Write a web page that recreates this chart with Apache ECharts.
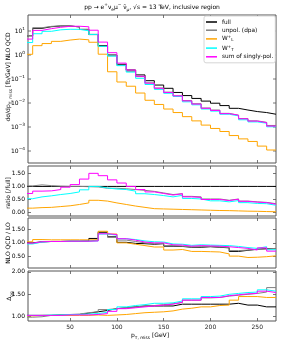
<!DOCTYPE html>
<html>
<head>
<meta charset="utf-8">
<script src="https://cdn.jsdelivr.net/npm/echarts@6/dist/echarts.min.js"></script>
<style>
html,body{margin:0;padding:0;background:#fff;}
#chart{width:288px;height:342px;}
</style>
</head>
<body>
<div id="chart"></div>
<script>
// ---- data (bin edges in GeV, values per bin) ----
const binEdges = [0,10,20,30,40,50,60,70,80,90,100,110,120,130,140,150,160,170,180,190,200,210,220,230,240,250,260,270];
const xTicks = [50,100,150,200,250];

// top panel: dsigma/dpT,miss [fb/GeV] NLO QCD
const fullNLO  = [6.3,12.9,15.1,16.2,16.2,14.8,11.7,7.2,2.45,1.0,0.41,0.237,0.148,0.085,0.056,0.041,0.0275,0.0204,0.0155,0.012,0.0098,0.0078,0.006,0.0051,0.0044,0.004,0.0034];
const unpolNLO = [6.4,13.7,15.6,16.4,16.2,14.8,11.6,7.05,2.28,0.93,0.373,0.209,0.126,0.069,0.042,0.0283,0.0198,0.0126,0.0093,0.0062,0.0051,0.0037,0.0031,0.00224,0.0018,0.00156,0.00116];
const wlNLO    = [1.07,2.45,3.0,3.7,4.2,4.6,4.3,3.4,1.08,0.2,0.075,0.05,0.026,0.013,0.0087,0.0056,0.004,0.0027,0.0018,0.0012,0.00087,0.00065,0.00044,0.00032,0.00025,0.00016,0.00011];
const wtNLO    = [3.3,7.7,9.7,11.2,11.8,11.7,10.2,7.2,2.3,0.9,0.36,0.194,0.107,0.059,0.037,0.0254,0.0187,0.0112,0.0084,0.0056,0.0046,0.0034,0.0029,0.002,0.00163,0.00144,0.00102];
const sumNLO   = [4.6,10.6,12.5,14.3,15.7,15.8,15.0,10.8,3.45,1.25,0.46,0.237,0.130,0.067,0.041,0.0275,0.0198,0.0122,0.009,0.006,0.0049,0.0036,0.0031,0.0022,0.00176,0.00152,0.00109];
const logTicks = [1e-4,1e-3,1e-2,1e-1,1,10];

// ratio [/full]
const ratioFull  = [1,1,1,1,1,1,1,1,1,1,1,1,1,1,1,1,1,1,1,1,1,1,1,1,1,1,1];
const ratioUnpol = [1.02,1.06,1.03,1.01,1.0,1.0,0.99,0.98,0.93,0.93,0.91,0.88,0.85,0.81,0.75,0.69,0.72,0.62,0.6,0.52,0.52,0.47,0.52,0.44,0.41,0.39,0.34];
const ratioWL    = [0.17,0.19,0.2,0.23,0.26,0.31,0.37,0.47,0.44,0.37,0.31,0.25,0.2,0.15,0.14,0.13,0.12,0.11,0.1,0.09,0.08,0.075,0.065,0.055,0.05,0.04,0.032];
const ratioWT    = [0.53,0.6,0.64,0.69,0.73,0.79,0.87,1.0,0.94,0.9,0.88,0.82,0.72,0.69,0.65,0.6,0.66,0.54,0.52,0.45,0.45,0.41,0.46,0.38,0.35,0.34,0.28];
const ratioSum   = [0.73,0.82,0.83,0.88,0.97,1.07,1.28,1.5,1.41,1.25,1.13,1.0,0.88,0.79,0.73,0.67,0.72,0.6,0.58,0.5,0.5,0.46,0.51,0.43,0.4,0.38,0.32];
const ratioTicks = [0,0.5,1,1.5];

// NLO QCD / LO
const kFull  = [1.0,1.04,1.05,1.05,1.06,1.06,1.07,1.16,1.38,1.22,1.02,0.98,0.97,0.95,0.97,0.88,0.87,0.84,0.84,0.86,0.84,0.82,0.69,0.73,0.77,0.79,0.79];
const kUnpol = [0.98,1.03,1.05,1.05,1.06,1.06,1.07,1.1,1.4,1.2,1.1,1.05,1.0,0.97,0.98,0.9,0.88,0.85,0.86,0.87,0.85,0.83,0.72,0.74,0.76,0.78,0.8];
const kWL    = [1.04,1.12,1.11,1.11,1.11,1.11,1.11,1.11,1.42,1.32,1.0,0.95,0.9,0.85,0.85,0.74,0.76,0.69,0.69,0.68,0.67,0.6,0.52,0.47,0.48,0.5,0.53];
const kWT    = [0.96,1.03,1.05,1.05,1.06,1.06,1.06,1.07,1.32,1.28,1.15,1.12,1.07,1.04,1.03,0.96,0.95,0.91,0.93,0.92,0.91,0.9,0.87,0.83,0.8,0.86,0.75];
const kSum   = [0.99,1.04,1.05,1.05,1.06,1.06,1.06,1.07,1.33,1.3,1.15,1.1,1.03,1.0,1.0,0.93,0.92,0.88,0.9,0.89,0.88,0.86,0.83,0.8,0.74,0.82,0.7];
const kTicks = [0.5,1,1.5];

// Delta_gg
const dFull  = [1.03,1.03,1.03,1.04,1.04,1.05,1.08,1.11,1.14,1.18,1.2,1.22,1.24,1.24,1.24,1.24,1.28,1.28,1.28,1.28,1.28,1.28,1.3,1.26,1.26,1.22,1.22];
const dUnpol = [0.99,1.0,1.03,1.04,1.05,1.06,1.09,1.11,1.16,1.18,1.2,1.22,1.24,1.25,1.27,1.29,1.32,1.37,1.37,1.42,1.43,1.46,1.48,1.5,1.52,1.55,1.65];
const dWL    = [1.02,1.03,1.03,1.03,1.03,1.03,1.03,1.04,1.03,1.04,1.05,1.07,1.09,1.1,1.11,1.13,1.17,1.19,1.22,1.22,1.25,1.26,1.37,1.45,1.45,1.43,1.43];
const dWT    = [1.03,1.03,1.04,1.04,1.05,1.05,1.06,1.07,1.1,1.16,1.22,1.25,1.27,1.3,1.3,1.31,1.35,1.4,1.4,1.45,1.46,1.5,1.52,1.54,1.55,1.6,1.57];
const dSum   = [1.03,1.03,1.03,1.03,1.04,1.04,1.04,1.05,1.07,1.12,1.18,1.2,1.22,1.24,1.26,1.28,1.32,1.37,1.37,1.43,1.43,1.47,1.49,1.51,1.52,1.57,1.54];
const dTicks = [1,1.5,2];

// ---- styling ----
const FONT = 'DejaVu Sans';
const AX = '#555';
const colors = {full:'#000000', unpol:'#808080', WL:'#ffa500', WT:'#00ffff', sum:'#ff00ff'};
const names = ['full','unpol','WL','WT','sum'];
const rich = {
  n:  {fontSize:6, fontFamily:FONT, color:'#000', lineHeight:9},
  sb: {fontSize:4.3, fontFamily:FONT, color:'#000', lineHeight:5, verticalAlign:'bottom'},
  sp: {fontSize:4.3, fontFamily:FONT, color:'#000', lineHeight:5, verticalAlign:'top'}
};

const G = {left:28, right:276};
const grids = [
  {left:28, top:15, width:248, height:148},
  {left:28, top:166, width:248, height:50},
  {left:28, top:218, width:248, height:50},
  {left:28, top:271, width:248, height:50}
].map(g => Object.assign(g, {show:true, borderColor:AX, borderWidth:1, backgroundColor:'transparent'}));

const xAxes = [];
for (let i = 0; i < 4; i++) {
  ['bottom','top'].forEach(pos => {
    xAxes.push({
      type:'value', gridIndex:i, min:5, max:270, position:pos,
      axisLine:{show:false, onZero:false}, splitLine:{show:false},
      axisTick:{show:true, inside:true, length:3, customValues:xTicks, lineStyle:{color:AX, width:0.8}},
      axisLabel:{show:(i===3 && pos==='bottom'), customValues:xTicks, fontSize:6, fontFamily:FONT, color:'#222', margin:3}
    });
  });
}

const yDefs = [
  {type:'log', min:Math.pow(10,-4.5), max:Math.pow(10,1.667)},
  {type:'value', min:-0.13, max:1.78, ticks:ratioTicks},
  {type:'value', min:0.09, max:1.9, ticks:kTicks},
  {type:'value', min:0.905, max:2.02, ticks:dTicks}
];
const logFmt = v => {
  const e = Math.round(Math.log10(v));
  return '{n|10}{sp|' + (e < 0 ? '\u2212' + (-e) : e) + '}';
};
const yAxes = [];
yDefs.forEach((d, i) => {
  ['left','right'].forEach(pos => {
    let ax;
    if (d.type === 'log') {
      ax = {
        type:'log', logBase:10, gridIndex:i, min:d.min, max:d.max, position:pos,
        axisLine:{show:false, onZero:false}, splitLine:{show:false},
        axisTick:{show:false}, axisLabel:{show:false}
      };
    } else {
      ax = {
        type:'value', gridIndex:i, min:d.min, max:d.max, position:pos,
        axisLine:{show:false, onZero:false}, splitLine:{show:false},
        axisTick:{show:true, inside:true, length:3, customValues:d.ticks, lineStyle:{color:AX, width:0.8}},
        axisLabel:{show:pos==='left', customValues:d.ticks, formatter:v => '{n|' + v.toFixed(2) + '}', rich:rich, margin:3}
      };
    }
    yAxes.push(ax);
  });
});

function stepData(vals) {
  return binEdges.map((e, i) => [e, vals[Math.min(i, vals.length - 1)]]);
}
const panels = [
  [fullNLO, unpolNLO, wlNLO, wtNLO, sumNLO],
  [ratioFull, ratioUnpol, ratioWL, ratioWT, ratioSum],
  [kFull, kUnpol, kWL, kWT, kSum],
  [dFull, dUnpol, dWL, dWT, dSum]
];
const series = [];
panels.forEach((arrs, p) => {
  arrs.forEach((arr, k) => {
    const nm = names[k];
    series.push({
      type:'line', name:nm, xAxisIndex:2*p, yAxisIndex:2*p, data:stepData(arr),
      step:'end', symbol:'none', showSymbol:false, clip:true, color:colors[nm],
      lineStyle:{width:1, color:colors[nm]}, z:2 + k, silent:true
    });
  });
});

const legendLabels = {
  full:'{n|full}', unpol:'{n|unpol. (dpa)}',
  WL:'{n|W}{sp|+}{sb|L}', WT:'{n|W}{sp|+}{sb|T}', sum:'{n|sum of singly-pol.}'
};
const lrich = {
  n:  {fontSize:5.8, fontFamily:FONT, color:'#000', lineHeight:7},
  sb: {fontSize:4.2, fontFamily:FONT, color:'#000', lineHeight:4, verticalAlign:'bottom'},
  sp: {fontSize:4.2, fontFamily:FONT, color:'#000', lineHeight:4, verticalAlign:'top'}
};

const baseGraphic = [
  {type:'text', x:152, y:7, style:{
    text:'{n|pp \u2192 e}{sp|+}{n|\u03bd}{sb|e}{n|\u03bc}{sp|\u2212}{n| \u03bd\u0304}{sb|\u03bc}{n|, \u221as = 13 TeV, inclusive region}',
    rich:rich, align:'center', verticalAlign:'middle'}},
  {type:'text', x:8, y:77, rotation:Math.PI/2, style:{
    text:'{n|d\u03c3/dp}{sb|T, miss}{n| [fb/GeV] NLO QCD}', rich:rich, align:'center', verticalAlign:'middle'}},
  {type:'text', x:8, y:193, rotation:Math.PI/2, style:{
    text:'{n|ratio [/full]}', rich:rich, align:'center', verticalAlign:'middle'}},
  {type:'text', x:8, y:243, rotation:Math.PI/2, style:{
    text:'{n|NLO QCD / LO}', rich:rich, align:'center', verticalAlign:'middle'}},
  {type:'text', x:9, y:296, rotation:Math.PI/2, style:{
    text:'{n|\u0394}{sb|gg}', rich:rich, align:'center', verticalAlign:'middle'}},
  {type:'text', x:150, y:335, style:{
    text:'{n|p}{sb|T, miss}{n| [GeV]}', rich:rich, align:'center', verticalAlign:'middle'}}
];

const option = {
  animation:false,
  backgroundColor:'#fff',
  grid:grids,
  xAxis:xAxes,
  yAxis:yAxes,
  series:series,
  legend:{
    data:names.map(n => ({name:n, icon:'rect'})),
    orient:'vertical', left:204, top:16, z:20,
    itemWidth:11, itemHeight:1.5, itemGap:2.2,
    padding:[3,2,3,2],
    backgroundColor:'#fff', borderColor:'#cccccc', borderWidth:0.8, borderRadius:2,
    formatter:n => legendLabels[n],
    textStyle:{fontSize:5.8, fontFamily:FONT, color:'#000', rich:lrich, padding:[0,0,0,0]},
    selectedMode:false
  },
  graphic:baseGraphic
};

const chart = echarts.init(document.getElementById('chart'), null, {renderer:'canvas', width:288, height:342});
chart.setOption(option);

// log-axis tick marks and labels, positioned through the log axis' own scale
const logG = [];
logTicks.forEach(v => {
  const y = chart.convertToPixel({yAxisIndex:0}, v);
  logG.push({type:'text', x:25, y:y, z:1, style:{text:logFmt(v), rich:rich, align:'right', verticalAlign:'middle'}});
  logG.push({type:'line', z:1, shape:{x1:G.left, y1:y, x2:G.left + 3, y2:y}, style:{stroke:AX, lineWidth:0.8}});
  logG.push({type:'line', z:1, shape:{x1:G.right, y1:y, x2:G.right - 3, y2:y}, style:{stroke:AX, lineWidth:0.8}});
});
chart.setOption({graphic:baseGraphic.concat(logG)});
</script>
</body>
</html>
